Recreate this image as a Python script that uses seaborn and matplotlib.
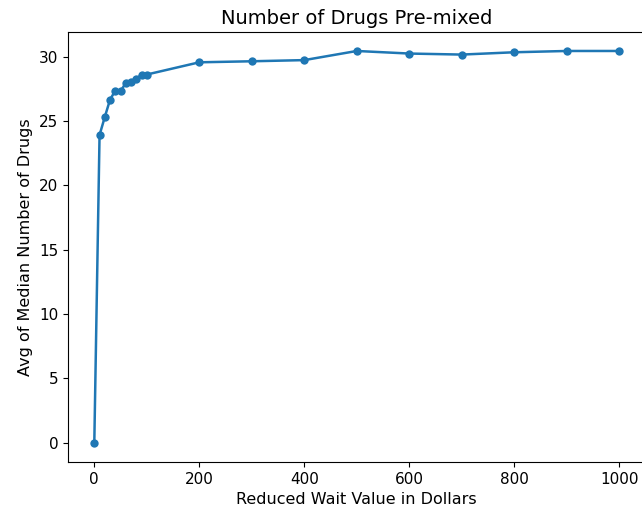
import matplotlib
matplotlib.use("Agg")
import matplotlib.pyplot as plt
import seaborn as sns
import pandas as pd

wait_value = [0, 10, 20, 30, 40, 50, 60, 70, 80, 90, 100,
              200, 300, 400, 500, 600, 700, 800, 900, 1000]
avg_median_drugs = [0.0, 23.9, 25.3, 26.65, 27.35, 27.3, 27.95, 28.0, 28.25, 28.6, 28.6,
                    29.55, 29.63, 29.72, 30.43, 30.23, 30.15, 30.33, 30.43, 30.43]

df = pd.DataFrame({"wait": wait_value, "drugs": avg_median_drugs})

plt.rcParams["font.family"] = ["DejaVu Sans"]
fig = plt.figure(figsize=(6.42, 5.17), dpi=100)
ax = fig.add_axes([0.106, 0.106, 0.8995, 0.832])
sns.lineplot(data=df, x="wait", y="drugs", marker="o", markersize=6,
             markeredgewidth=0, color="#1f77b4", linewidth=1.8, ax=ax)
ax.set_xlim(-50, 1050)
ax.set_ylim(-1.52, 31.9)
ax.set_xticks([0, 200, 400, 600, 800, 1000])
ax.set_yticks([0, 5, 10, 15, 20, 25, 30])
ax.tick_params(labelsize=11)
ax.set_title("Number of Drugs Pre-mixed", fontsize=14)
ax.set_xlabel("Reduced Wait Value in Dollars", fontsize=11.5)
ax.set_ylabel("Avg of Median Number of Drugs", fontsize=11.5)
fig.savefig("out.png", dpi=100)
